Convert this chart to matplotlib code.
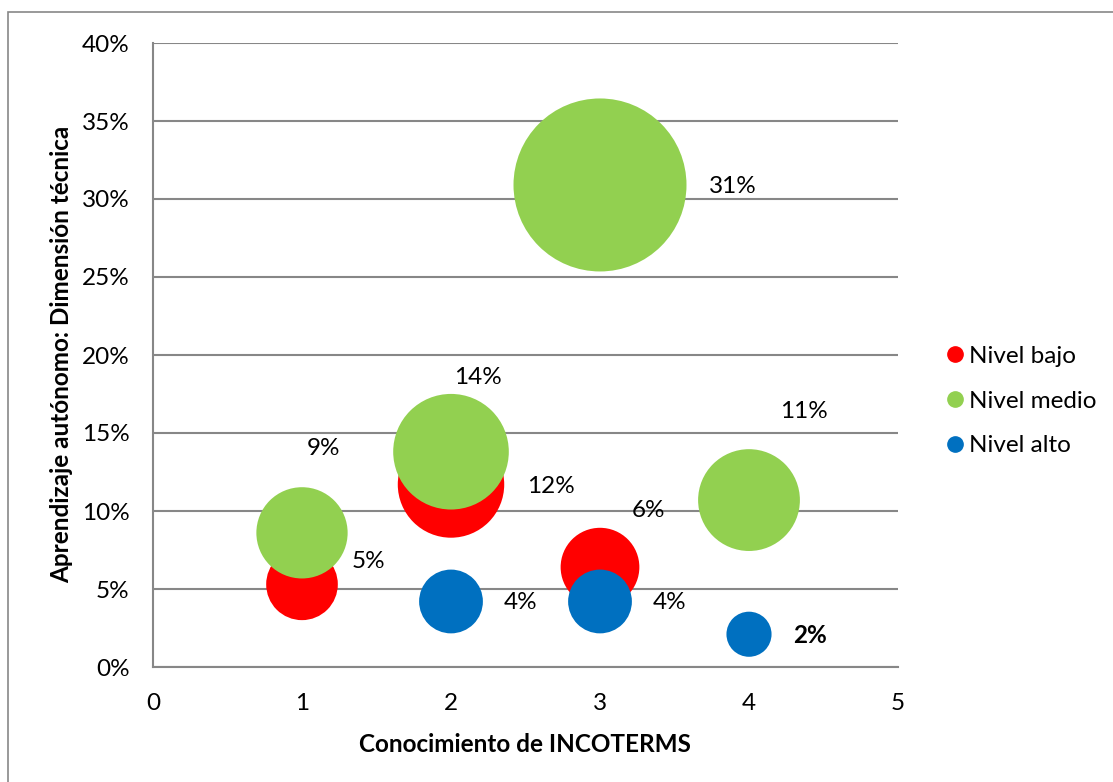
import numpy as np
import matplotlib
matplotlib.use("Agg")
import matplotlib.pyplot as plt
from matplotlib.patches import Rectangle
from matplotlib.ticker import FuncFormatter

plt.rcParams['font.family'] = ['Lato', 'DejaVu Sans']

# datos
series = ["Nivel bajo", "Nivel medio", "Nivel alto"]
colores = ["#FF0000", "#92D050", "#0070C0"]

bajo_x = [1, 2, 3]
bajo_y = [5.3, 11.7, 6.4]
medio_x = [1, 2, 3, 4]
medio_y = [8.6, 13.8, 30.9, 10.7]
alto_x = [2, 3, 4]
alto_y = [4.2, 4.2, 2.1]

# desplazamiento de etiquetas (px) respecto al centro de la burbuja
off_bajo = [(66, 23), (100, -2), (48, 57)]
off_medio = [(21, 84), (27, 74), (133, -2), (55, 89)]
off_alto = [(70, -1), (70, -1), (61, -1)]

fs = 17.5
dpi = 100
fig = plt.figure(figsize=(11.13, 7.82), dpi=dpi)
ax = fig.add_axes([153/1113, 1-667/782, 745/1113, 624/782])

# borde del gráfico (sólo se ven izquierda y arriba)
fig.patches.append(Rectangle((8/1113, -0.05), 1.2, 1-12/782+0.05, transform=fig.transFigure,
                             fill=False, edgecolor="#878787", linewidth=1.2))

vmax = max(medio_y)
rmax = 86.5  # radio en px de la burbuja mayor

def tam(v):
    r = rmax*np.sqrt(np.array(v)/vmax)
    return (2*r*72/dpi)**2

datos = [(bajo_x, bajo_y, off_bajo), (medio_x, medio_y, off_medio), (alto_x, alto_y, off_alto)]
for i, (xs, ys, offs) in enumerate(datos):
    ax.scatter(xs, ys, s=tam(ys), color=colores[i], edgecolors='none', zorder=3+i, label=series[i])
    for x, y, (dx, dy) in zip(xs, ys, offs):
        peso = 'bold' if (i == 2 and x == 4) else 'normal'
        ax.annotate("%d%%" % int(y + 0.5), (x, y), xytext=(dx*0.72, dy*0.72), textcoords='offset points',
                    ha='center', va='center', fontsize=fs, fontweight=peso, zorder=10)

ax.set_xlim(0, 5)
ax.set_ylim(0, 40)
ax.set_xticks(range(0, 6))
ax.set_yticks(range(0, 41, 5))
ax.yaxis.set_major_formatter(FuncFormatter(lambda v, p: "%d%%" % v))
ax.tick_params(length=0, labelsize=fs)
ax.tick_params(axis='y', pad=17)
ax.tick_params(axis='x', pad=19)
ax.grid(axis='y', color="#878787", linewidth=1.5, zorder=0)
ax.set_axisbelow(True)
for s in ['top', 'right']:
    ax.spines[s].set_visible(False)
for s in ['left', 'bottom']:
    ax.spines[s].set_color("#878787")
    ax.spines[s].set_linewidth(1.5)

fig.text(525/1113, 1-745/782, "Conocimiento de INCOTERMS", fontsize=fs, fontweight='bold',
         ha='center', va='center')
fig.text(62/1113, 1-354/782, "Aprendizaje autónomo: Dimensión técnica", fontsize=fs, fontweight='bold',
         ha='center', va='center', rotation=90)

# leyenda
handles = [plt.Line2D([], [], marker='o', linestyle='none', markersize=11, color=c) for c in colores]
leg = fig.legend(handles, series, loc='center left', bbox_to_anchor=(945/1113, 1-401/782),
                 frameon=False, fontsize=fs, handletextpad=0.2, labelspacing=0.98, handlelength=0.8,
                 borderpad=0, borderaxespad=0)

fig.savefig("out.png", dpi=dpi)
